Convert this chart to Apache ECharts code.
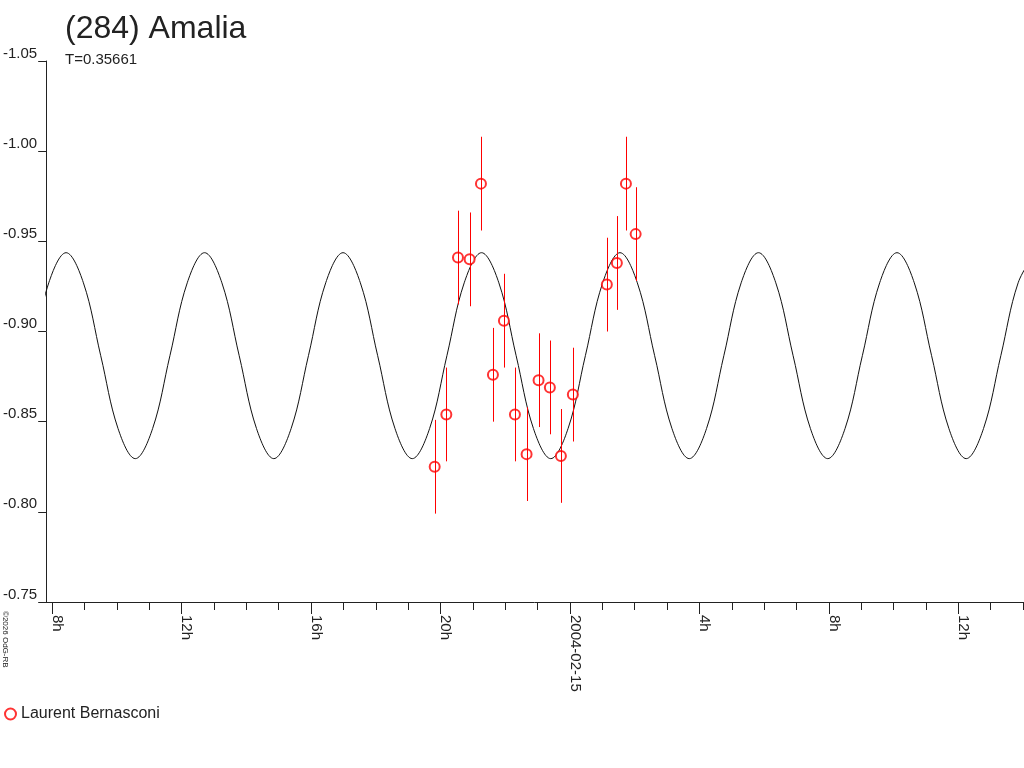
<!DOCTYPE html>
<html>
<head>
<meta charset="utf-8">
<script src="https://cdn.jsdelivr.net/npm/echarts@6/dist/echarts.min.js"></script>
<style>
html,body{margin:0;padding:0;background:#fff;}
#c{width:1024px;height:768px;}
</style>
</head>
<body>
<div id="c"></div>
<script>
// Observations (hours since 2004-02-14 00:00 UT), reduced magnitude, error
const obsHours = [19.82, 20.18, 20.54, 20.90, 21.25, 21.62, 21.96, 22.30, 22.66, 23.03, 23.38, 23.72, 24.09, 25.14, 25.45, 25.73, 26.03];
const obsMags  = [-0.825, -0.854, -0.941, -0.940, -0.982, -0.876, -0.906, -0.854, -0.832, -0.873, -0.869, -0.831, -0.865, -0.926, -0.938, -0.982, -0.954];
const obsErr   = [0.026, 0.026, 0.026, 0.026, 0.026, 0.026, 0.026, 0.026, 0.026, 0.026, 0.026, 0.026, 0.026, 0.026, 0.026, 0.026, 0.026];

// Fitted light curve
const fitHours = [7.360, 7.895, 8.430, 8.965, 9.500, 10.035, 10.569, 11.104,
  11.639, 12.174, 12.709, 13.244, 13.779, 14.314, 14.849, 15.384,
  15.919, 16.453, 16.988, 17.523, 18.058, 18.593, 19.128, 19.663,
  20.198, 20.733, 21.268, 21.803, 22.337, 22.872, 23.407, 23.942,
  24.477, 25.012, 25.547, 26.082, 26.617, 27.152, 27.687, 28.221,
  28.756, 29.291, 29.826, 30.361, 30.896, 31.431, 31.966, 32.501,
  33.036, 33.571, 34.106, 34.640, 35.175, 35.710, 36.245, 36.780,
  37.315, 37.850, 38.385];
const fitMags = [-0.8866, -0.9270, -0.9437, -0.9270, -0.8866, -0.8462, -0.8295, -0.8462,
  -0.8866, -0.9270, -0.9437, -0.9270, -0.8866, -0.8462, -0.8295, -0.8462,
  -0.8866, -0.9270, -0.9437, -0.9270, -0.8866, -0.8462, -0.8295, -0.8462,
  -0.8866, -0.9270, -0.9437, -0.9270, -0.8866, -0.8462, -0.8295, -0.8462,
  -0.8866, -0.9270, -0.9437, -0.9270, -0.8866, -0.8462, -0.8295, -0.8462,
  -0.8866, -0.9270, -0.9437, -0.9270, -0.8866, -0.8462, -0.8295, -0.8462,
  -0.8866, -0.9270, -0.9437, -0.9270, -0.8866, -0.8462, -0.8295, -0.8462,
  -0.8866, -0.9270, -0.9437];

const majorTickHours = [8, 12, 16, 20, 24, 28, 32, 36];
const minorTickHours = [8, 9, 10, 11, 12, 13, 14, 15, 16, 17, 18, 19, 20, 21, 22, 23, 24,
  25, 26, 27, 28, 29, 30, 31, 32, 33, 34, 35, 36, 37, 38];

const xMin = 7.815, xMax = 38;
const FONT = 'Liberation Sans, Arial, sans-serif';
const INK = '#222';
const RED = '#ff0000';

const chart = echarts.init(document.getElementById('c'), null, {renderer: 'canvas'});

const obsData = obsHours.map((h, i) => [h, obsMags[i], obsErr[i]]);
const fitData = fitHours.map((h, i) => [h, fitMags[i]]);

function hourLabel(v) {
  const h = ((Math.round(v) % 24) + 24) % 24;
  return h === 0 ? '2004-02-15' : h + 'h';
}

chart.setOption({
  animation: false,
  backgroundColor: '#fff',
  title: [
    {text: '(284) Amalia', left: 65, top: 13, padding: 0,
     textStyle: {fontSize: 32, fontWeight: 'normal', color: INK, fontFamily: FONT}},
    {text: 'T=0.35661', left: 65, top: 52, padding: 0,
     textStyle: {fontSize: 15, fontWeight: 'normal', color: INK, fontFamily: FONT}}
  ],
  legend: {
    left: 4, top: 706, padding: 0, itemWidth: 11, itemHeight: 11,
    data: ['Laurent Bernasconi'],
    textStyle: {fontSize: 16, color: INK, fontFamily: FONT}
  },
  graphic: [{
    type: 'text', x: 9, y: 611, rotation: -Math.PI / 2,
    style: {text: '©2026 OdG-RB', fontSize: 8, fill: INK, fontFamily: FONT}
  }],
  grid: {left: 45, right: 1, top: 61, bottom: 166, containLabel: false},
  xAxis: [
    {
      type: 'value', min: xMin, max: xMax, position: 'bottom',
      axisLine: {show: true, onZero: false, lineStyle: {color: INK, width: 1}},
      axisTick: {show: true, customValues: minorTickHours, length: 8, lineStyle: {color: INK}},
      axisLabel: {show: false},
      splitLine: {show: false}
    },
    {
      type: 'value', min: xMin, max: xMax, position: 'bottom',
      axisLine: {show: false, onZero: false},
      axisTick: {show: true, customValues: majorTickHours, length: 12, lineStyle: {color: INK}},
      axisLabel: {
        show: true, customValues: majorTickHours, rotate: -90, margin: 13,
        verticalAlign: 'bottom', lineHeight: 10, formatter: hourLabel,
        fontSize: 15, color: INK, fontFamily: FONT
      },
      splitLine: {show: false}
    }
  ],
  yAxis: {
    type: 'value', min: -1.05, max: -0.75, interval: 0.05, inverse: true,
    axisLine: {show: true, onZero: false, lineStyle: {color: INK, width: 1}},
    axisTick: {show: true, length: 8, lineStyle: {color: INK}},
    axisLabel: {
      formatter: v => v.toFixed(2), fontSize: 15, color: INK, fontFamily: FONT,
      margin: 9, verticalAlign: 'bottom'
    },
    splitLine: {show: false}
  },
  series: [
    {
      name: 'fit', type: 'line', xAxisIndex: 0, yAxisIndex: 0,
      data: fitData, smooth: 0.37, showSymbol: false, clip: true,
      lineStyle: {color: '#111', width: 1}, z: 2, silent: true
    },
    {
      name: 'Laurent Bernasconi', type: 'scatter', xAxisIndex: 0, yAxisIndex: 0,
      data: obsData.map(d => [d[0], d[1]]),
      symbol: 'emptyCircle', symbolSize: 10,
      itemStyle: {color: RED, borderColor: RED, borderWidth: 1}, z: 3
    },
    {
      name: 'errors', type: 'custom', xAxisIndex: 0, yAxisIndex: 0,
      data: obsData, z: 4, silent: true,
      renderItem: function (params, api) {
        const x = api.value(0), m = api.value(1), e = api.value(2);
        const p1 = api.coord([x, m - e]);
        const p2 = api.coord([x, m + e]);
        const px = Math.round(p1[0]) + 0.5;
        return {
          type: 'line',
          shape: {x1: px, y1: p1[1], x2: px, y2: p2[1]},
          style: {stroke: RED, lineWidth: 1}
        };
      }
    }
  ]
});
</script>
</body>
</html>
